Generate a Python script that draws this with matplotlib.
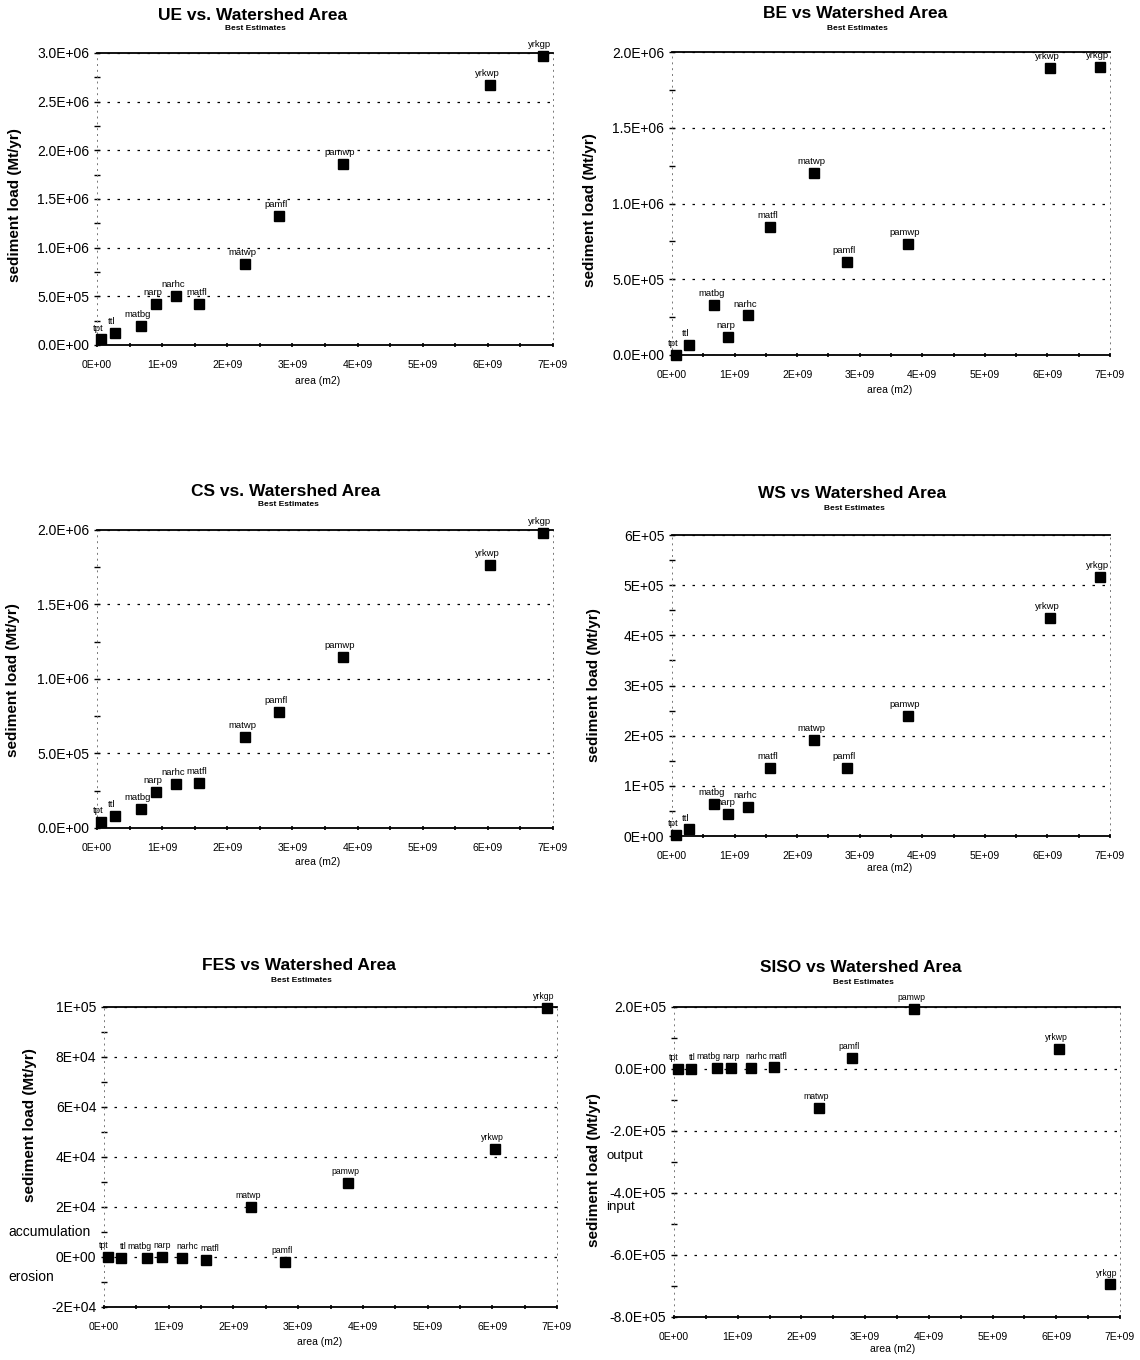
import numpy as np
import matplotlib
matplotlib.use("Agg")
import matplotlib.pyplot as plt
from matplotlib.ticker import MultipleLocator, FuncFormatter

plt.rcParams['font.family'] = ['Liberation Sans', 'DejaVu Sans']

# station names and watershed areas (m2)
sites = ['tpt', 'ttl', 'matbg', 'narp', 'narhc', 'matfl', 'matwp', 'pamfl', 'pamwp', 'yrkwp', 'yrkgp']
area_m2 = [0.06e9, 0.27e9, 0.67e9, 0.90e9, 1.21e9, 1.57e9, 2.27e9, 2.79e9, 3.77e9, 6.04e9, 6.84e9]

# sediment loads (Mt/yr), best estimates
ue_load = [5.7e4, 1.25e5, 1.93e5, 4.26e5, 5.07e5, 4.26e5, 8.3e5, 1.326e6, 1.857e6, 2.675e6, 2.966e6]
be_load = [2e3, 6.4e4, 3.33e5, 1.2e5, 2.61e5, 8.42e5, 1.204e6, 6.12e5, 7.35e5, 1.897e6, 1.9e6]
cs_load = [4e4, 8.3e4, 1.25e5, 2.39e5, 2.94e5, 3.05e5, 6.09e5, 7.8e5, 1.15e6, 1.768e6, 1.98e6]
ws_load = [2e3, 1.3e4, 6.4e4, 4.45e4, 5.85e4, 1.36e5, 1.92e5, 1.35e5, 2.39e5, 4.35e5, 5.16e5]
fes_load = [0, -200, -200, 0, -500, -1000, 2.0e4, -2000, 2.95e4, 4.33e4, 9.97e4]
siso_load = [0, 0, 2e3, 2e3, 4e3, 5e3, -1.26e5, 3.6e4, 1.93e5, 6.4e4, -6.95e5]

W, H = 1140, 1360
fig = plt.figure(figsize=(W / 100, H / 100), dpi=100)


def px(x, y):
    # figure pixel -> figure fraction
    return x / W, 1 - y / H


def draw_panel(box, title, values, ylim, step, minor, fmt, title_xy, ylab_xy, xlab_xy, crowded=False):
    l, t, r, b = box
    ax = fig.add_axes([l / W, 1 - b / H, (r - l) / W, (b - t) / H])
    ax.set_xlim(0, 7e9)
    ax.set_ylim(*ylim)

    ax.plot(area_m2, values, 's', color='black', ms=7, zorder=5, clip_on=False)
    for name, x, y in zip(sites, area_m2, values):
        dx = -2
        if crowded:
            # labels sit on one row here, spread them a little
            dx = {'tpt': -3, 'ttl': 1, 'matbg': -6, 'narp': 0, 'narhc': 3.5, 'matfl': 3}.get(name, -2)
        ax.annotate(name, (x, y), xytext=(dx, 5), textcoords='offset points',
                    ha='center', va='bottom', fontsize=6.8 if not crowded else 6.2, zorder=6)

    ax.yaxis.set_major_locator(MultipleLocator(step))
    ax.yaxis.set_minor_locator(MultipleLocator(minor))
    ax.xaxis.set_major_locator(MultipleLocator(1e9))
    ax.xaxis.set_minor_locator(MultipleLocator(5e8))

    def yfmt(v, p):
        if abs(v) < step * 1e-6:
            v = 0.0
        return fmt.format(v)
    ax.yaxis.set_major_formatter(FuncFormatter(yfmt))
    ax.xaxis.set_major_formatter(FuncFormatter(lambda v, p: '{:.0E}'.format(v)))

    ax.yaxis.grid(True, which='major', linestyle=(0, (2, 6)), color='black', lw=0.9)
    for s in ['top', 'bottom']:
        ax.spines[s].set_linewidth(1.3)
        ax.spines[s].set_color('black')
    for s in ['left', 'right']:
        ax.spines[s].set_linestyle((0, (1, 5)))
        ax.spines[s].set_color('#777777')
        ax.spines[s].set_linewidth(0.7)

    ax.tick_params(axis='y', which='major', direction='inout', length=5, width=1, labelsize=10, pad=3)
    ax.tick_params(axis='y', which='minor', direction='inout', length=4, width=1)
    ax.tick_params(axis='x', which='both', direction='inout', length=3, width=1.2, labelsize=7.5, pad=9)

    tx, ty = title_xy
    fig.text(*px(tx, ty), title, ha='center', va='center', fontsize=12.5, fontweight='bold')
    fig.text(*px(tx + 2, ty + 14), 'Best Estimates', ha='center', va='center', fontsize=6, fontweight='bold')
    fig.text(*px(*ylab_xy), 'sediment load (Mt/yr)', rotation=90, ha='center', va='center',
             fontsize=11, fontweight='bold')
    fig.text(*px(*xlab_xy), 'area (m2)', ha='center', va='center', fontsize=7.5)
    return ax


draw_panel((97, 53, 553, 345), 'UE vs. Watershed Area', ue_load, (0, 3e6), 5e5, 2.5e5, '{:.1E}',
           (253, 15), (15, 205), (318, 381))
draw_panel((672, 52, 1110, 355), 'BE vs Watershed Area', be_load, (0, 2e6), 5e5, 2.5e5, '{:.1E}',
           (855, 14), (590, 210), (890, 390))
draw_panel((97, 530, 553, 828), 'CS vs. Watershed Area', cs_load, (0, 2e6), 5e5, 2.5e5, '{:.1E}',
           (286, 491), (13, 680), (318, 862))
draw_panel((672, 535, 1110, 836), 'WS vs Watershed Area', ws_load, (0, 6e5), 1e5, 5e4, '{:.0E}',
           (852, 494), (594, 685), (890, 868))
ax5 = draw_panel((104, 1007, 557, 1307), 'FES vs Watershed Area', fes_load, (-2e4, 1e5), 2e4, 1e4, '{:.0E}',
                 (299, 966), (30, 1125), (320, 1342), crowded=True)
ax6 = draw_panel((674, 1007, 1120, 1317), 'SISO vs Watershed Area', siso_load, (-8e5, 2e5), 2e5, 1e5, '{:.1E}',
                 (861, 968), (594, 1170), (893, 1349), crowded=True)

# side notes
tr5 = ax5.get_yaxis_transform()
ax5.text(-0.212, 1e4, 'accumulation', transform=tr5, ha='left', va='center', fontsize=10)
ax5.text(-0.212, -0.8e4, 'erosion', transform=tr5, ha='left', va='center', fontsize=10)
tr6 = ax6.get_yaxis_transform()
ax6.text(-0.11, -2.8e5, 'output', transform=tr6, ha='center', va='center', fontsize=9.5)
ax6.text(-0.12, -4.45e5, 'input', transform=tr6, ha='center', va='center', fontsize=9.5)

fig.savefig('out.png', dpi=100, facecolor='white')
